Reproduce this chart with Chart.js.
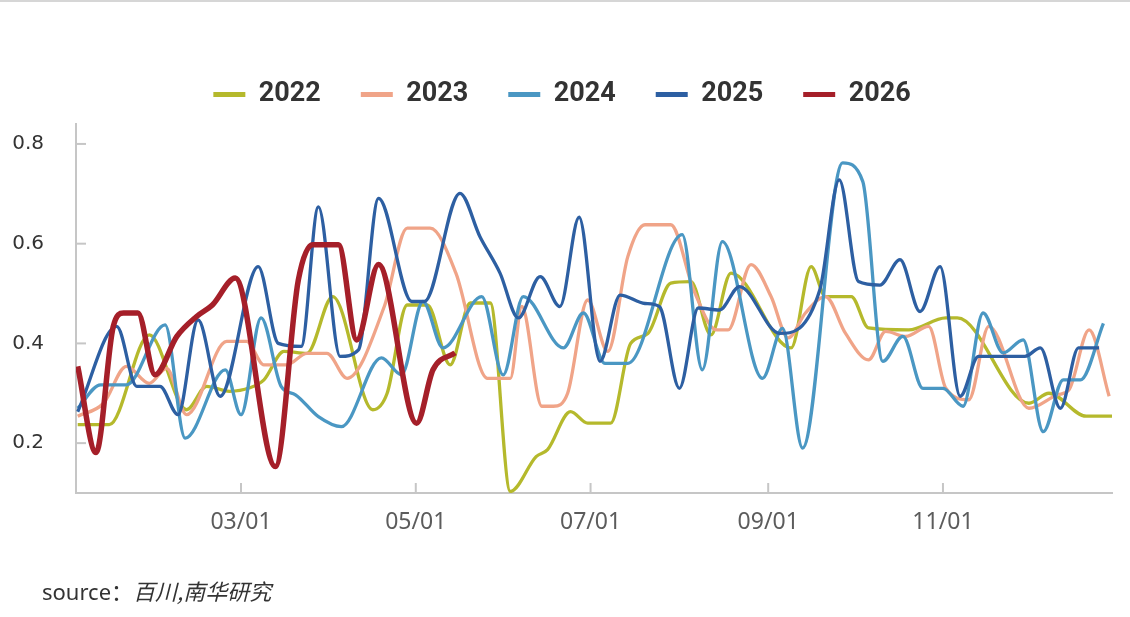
<!DOCTYPE html>
<html lang="zh">
<head>
<meta charset="UTF-8">
<title>2022-2026</title>
<script src="https://cdn.jsdelivr.net/npm/chart.js@4.4.1/dist/chart.umd.min.js"></script>
<style>
  body {
    margin: 0;
    background: #ffffff;
  }
  #wrap {
    position: relative;
    width: 1130px;
    height: 617px;
    overflow: hidden;
  }
  #topline {
    position: absolute;
    left: 0;
    top: 0;
    width: 1130px;
    height: 2px;
    background: #d6d6d6;
  }
  #source {
    position: absolute;
    left: 42px;
    top: 574px;
    font-family: "Noto Sans", "Noto Sans CJK SC", sans-serif;
    font-size: 22px;
    color: #333333;
  }
  #source i {
    font-family: "Noto Sans CJK SC", sans-serif;
  }
</style>
</head>
<body>
<div id="wrap">
  <div id="topline"></div>
  <canvas id="chart"></canvas>
  <div id="source">source：<i>百川,南华研究</i></div>
</div>

<script>
// x axis: day of year, ticks at the first day of every second month
const xTickDays = [60, 121, 182, 244, 305];
const xTickLabels = ['03/01', '05/01', '07/01', '09/01', '11/01'];
const yTicks = [0.2, 0.4, 0.6, 0.8];

const years = ['2022', '2023', '2024', '2025', '2026'];
const colors = ['#b5b92c', '#f0a488', '#4a97c3', '#2d5fa2', '#a51f29'];

// values, per year (day of year / value)
const days2022 = [3, 14, 28, 41, 48, 56, 63, 68, 75, 83, 92, 106, 111, 118, 125, 133, 140, 147, 154, 163, 167, 175, 181, 189, 196, 202, 210, 217, 224, 231, 252, 259, 264, 273, 279, 293, 306, 310, 335, 342, 355, 364];
const vals2022 = [0.237, 0.237, 0.417, 0.267, 0.314, 0.304, 0.311, 0.327, 0.384, 0.38, 0.494, 0.267, 0.30, 0.477, 0.477, 0.357, 0.481, 0.481, 0.103, 0.173, 0.187, 0.263, 0.24, 0.24, 0.40, 0.42, 0.521, 0.524, 0.417, 0.541, 0.391, 0.554, 0.494, 0.494, 0.431, 0.427, 0.451, 0.451, 0.28, 0.30, 0.254, 0.254];

const days2023 = [3, 12, 20, 28, 34, 41, 55, 62, 68, 76, 83, 90, 97, 110, 118, 126, 135, 146, 154, 158, 165, 169, 174, 181, 188, 195, 201, 210, 218, 226, 230, 238, 245, 251, 257, 264, 271, 279, 285, 292, 300, 306, 314, 321, 335, 345, 349, 356, 363];
const vals2023 = [0.254, 0.28, 0.354, 0.32, 0.35, 0.257, 0.404, 0.404, 0.357, 0.357, 0.38, 0.38, 0.33, 0.474, 0.631, 0.631, 0.541, 0.33, 0.33, 0.474, 0.274, 0.274, 0.30, 0.487, 0.384, 0.574, 0.638, 0.638, 0.507, 0.427, 0.427, 0.558, 0.494, 0.411, 0.461, 0.494, 0.42, 0.367, 0.424, 0.414, 0.434, 0.31, 0.287, 0.434, 0.27, 0.297, 0.307, 0.427, 0.294];

const days2024 = [3, 11, 20, 33.5, 40.5, 54.5, 60, 67, 74, 79, 87, 95, 109, 116, 123.5, 130.5, 144, 151.5, 158.5, 172.5, 179.5, 187, 195, 214, 221, 228, 242, 249, 256, 270, 277, 284, 291, 298, 305, 312, 319, 326, 333, 340, 347, 353, 361];
const vals2024 = [0.27, 0.317, 0.317, 0.437, 0.21, 0.347, 0.257, 0.451, 0.314, 0.297, 0.253, 0.233, 0.371, 0.337, 0.484, 0.391, 0.494, 0.337, 0.494, 0.391, 0.461, 0.36, 0.36, 0.618, 0.347, 0.604, 0.33, 0.43, 0.19, 0.762, 0.725, 0.364, 0.414, 0.31, 0.31, 0.274, 0.461, 0.381, 0.407, 0.223, 0.327, 0.327, 0.44];

const days2025 = [3, 16.6, 23.6, 31.7, 38, 45, 52.7, 66, 73, 81, 87, 94.6, 101, 108, 119.6, 124, 136.4, 143.4, 150.4, 156.8, 164.4, 171.3, 178, 185.3, 192.3, 201, 206, 213, 219.6, 227, 234, 248, 262, 268.8, 275.5, 283, 290, 297, 304, 311, 317.4, 333.6, 339, 346, 352.3, 359.5];
const vals2025 = [0.263, 0.434, 0.314, 0.314, 0.257, 0.447, 0.294, 0.554, 0.40, 0.394, 0.674, 0.374, 0.387, 0.691, 0.484, 0.484, 0.701, 0.614, 0.541, 0.451, 0.534, 0.474, 0.653, 0.364, 0.497, 0.48, 0.474, 0.31, 0.471, 0.467, 0.514, 0.42, 0.507, 0.728, 0.524, 0.517, 0.568, 0.464, 0.554, 0.294, 0.374, 0.374, 0.391, 0.27, 0.391, 0.391];

const days2026 = [3, 9.4, 15.4, 19, 24, 30, 37.6, 44.5, 50, 58, 72, 80, 85, 94, 100.4, 108, 121.3, 127, 134.7];
const vals2026 = [0.354, 0.181, 0.434, 0.461, 0.461, 0.337, 0.414, 0.454, 0.477, 0.531, 0.153, 0.527, 0.598, 0.598, 0.407, 0.558, 0.24, 0.347, 0.381];

const allDays = [days2022, days2023, days2024, days2025, days2026];
const allVals = [vals2022, vals2023, vals2024, vals2025, vals2026];

function toPoints(days, vals) {
  return days.map((d, i) => ({ x: d, y: vals[i] }));
}

const datasets = years.map((year, i) => ({
  label: year,
  data: toPoints(allDays[i], allVals[i]),
  borderColor: colors[i],
  backgroundColor: colors[i],
  borderWidth: i === 4 ? 5.5 : 3.3,
  pointRadius: 0,
  cubicInterpolationMode: 'monotone',
  order: years.length - i  // later years on top
}));

// small tick marks drawn inside the plot, like the original
const innerTicks = {
  id: 'innerTicks',
  beforeDatasetsDraw(chart) {
    const { ctx, chartArea, scales } = chart;
    ctx.save();
    ctx.strokeStyle = '#c6c6c6';
    ctx.lineWidth = 2;
    yTicks.forEach(v => {
      const y = scales.y.getPixelForValue(v);
      ctx.beginPath();
      ctx.moveTo(chartArea.left, y);
      ctx.lineTo(chartArea.left + 10, y);
      ctx.stroke();
    });
    xTickDays.forEach(d => {
      const x = scales.x.getPixelForValue(d);
      ctx.beginPath();
      ctx.moveTo(x, chartArea.bottom);
      ctx.lineTo(x, chartArea.bottom - 10);
      ctx.stroke();
    });
    ctx.restore();
  }
};

// fixed legend height so the plot starts where it does in the original
const legendHeight = {
  id: 'legendHeight',
  beforeInit(chart) {
    const fit = chart.legend.fit;
    chart.legend.fit = function () {
      fit.bind(chart.legend)();
      this.height = 83;
    };
  }
};

new Chart(document.getElementById('chart'), {
  type: 'line',
  data: { datasets: datasets },
  plugins: [innerTicks, legendHeight],
  options: {
    responsive: true,
    maintainAspectRatio: false,
    animation: false,
    layout: {
      padding: { top: 41, left: 12, right: 18, bottom: 74 }
    },
    plugins: {
      tooltip: { enabled: false },
      legend: {
        position: 'top',
        align: 'center',
        labels: {
          boxWidth: 32,
          boxHeight: 5,
          padding: 40,
          color: '#333333',
          font: { family: 'Roboto', size: 27, weight: 'bold' },
          sort: (a, b) => a.datasetIndex - b.datasetIndex,
          generateLabels(chart) {
            const items = Chart.defaults.plugins.legend.labels.generateLabels(chart);
            items.forEach(it => { it.lineWidth = 0; });
            return items;
          }
        }
      }
    },
    scales: {
      x: {
        type: 'linear',
        min: 2.4,
        max: 364,
        grid: { display: false, drawTicks: false },
        border: { color: '#c6c6c6', width: 2 },
        afterBuildTicks: axis => { axis.ticks = xTickDays.map(v => ({ value: v })); },
        afterFit: axis => { axis.height = 50; },
        ticks: {
          autoSkip: false,
          maxRotation: 0,
          padding: 16,
          color: '#5c5c5c',
          font: { family: 'Noto Sans', size: 23 },
          callback: value => xTickLabels[xTickDays.indexOf(value)]
        }
      },
      y: {
        min: 0.1,
        max: 0.84,
        grid: { display: false, drawTicks: false },
        border: { color: '#c6c6c6', width: 2 },
        afterBuildTicks: axis => { axis.ticks = yTicks.map(v => ({ value: v })); },
        afterFit: axis => { axis.width = 64; },
        ticks: {
          padding: 32,
          color: '#333333',
          font: { family: 'DejaVu Sans', size: 20 },
          callback: value => value.toFixed(1)
        }
      }
    }
  }
});
</script>
</body>
</html>
